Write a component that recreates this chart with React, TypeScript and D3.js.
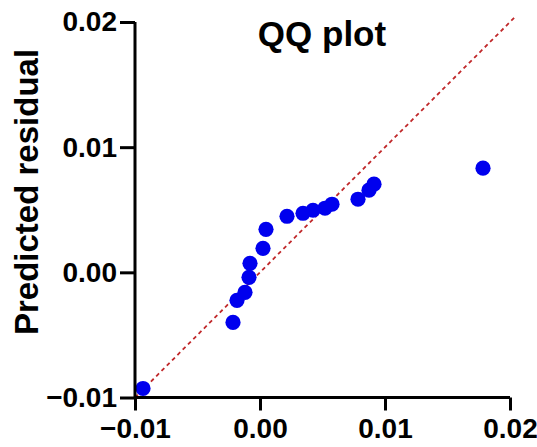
import React, { useEffect, useRef } from "react";
import * as d3 from "d3";

// theoretical quantiles (x) vs predicted residuals (y)
const theoretical = [-0.00936, -0.00216, -0.00184, -0.0012, -0.00088, -0.0008, 0.00024, 0.00048, 0.00216, 0.00344, 0.00424, 0.0052, 0.00576, 0.00784, 0.00872, 0.00912, 0.01784];
const residuals = [-0.00928, -0.004, -0.00224, -0.0016, -0.0004, 0.00072, 0.00192, 0.00344, 0.00448, 0.00472, 0.00496, 0.00512, 0.00544, 0.00584, 0.00656, 0.00704, 0.00832];
const xTicks = [-0.01, 0.0, 0.01, 0.02];
const yTicks = [-0.01, 0.0, 0.01, 0.02];
const refLine = [-0.01, 0.0205];

const W = 537;
const H = 447;
const FONT = "'Liberation Sans', Arial, sans-serif";

export default function App() {
  const svgRef = useRef<SVGSVGElement>(null);

  useEffect(() => {
    const svg = d3.select(svgRef.current);
    svg.selectAll("*").remove();

    const x = d3.scaleLinear().domain([-0.01, 0.02]).range([135, 510]);
    const y = d3.scaleLinear().domain([-0.01, 0.02]).range([397.5, 22]);

    // reference line y = x
    svg.append("line")
      .attr("x1", x(refLine[0])).attr("y1", y(refLine[0]))
      .attr("x2", x(refLine[1])).attr("y2", y(refLine[1]))
      .attr("stroke", "#c0282a")
      .attr("stroke-width", 1.8)
      .attr("stroke-dasharray", "4,3.5");

    svg.append("g")
      .selectAll("circle")
      .data(theoretical.map((t, i) => [t, residuals[i]]))
      .join("circle")
      .attr("cx", d => x(d[0]))
      .attr("cy", d => y(d[1]))
      .attr("r", 7.6)
      .attr("fill", "#0000ee");

    const xAxis = svg.append("g")
      .attr("transform", `translate(0,${y(-0.01)})`)
      .call(d3.axisBottom(x).tickValues(xTicks).tickSize(13).tickPadding(6).tickFormat(d3.format(".2f")));
    const yAxis = svg.append("g")
      .attr("transform", `translate(${x(-0.01)},0)`)
      .call(d3.axisLeft(y).tickValues(yTicks).tickSize(15).tickPadding(3).tickFormat(d3.format(".2f")));

    [xAxis, yAxis].forEach(g => {
      g.select(".domain").attr("stroke", "#000").attr("stroke-width", 3);
      g.selectAll(".tick line").attr("stroke", "#000").attr("stroke-width", 3);
      g.selectAll(".tick text")
        .attr("fill", "#000")
        .attr("font-family", FONT)
        .attr("font-weight", "bold")
        .attr("font-size", 28);
    });
    xAxis.select(".domain").attr("d", `M${x(-0.01)},0H${x(0.02)}`);
    yAxis.select(".domain").attr("d", `M0,${y(-0.01)}V${y(0.02)}`);
    xAxis.selectAll(".tick text").attr("dy", "0.76em");

    svg.append("text")
      .attr("x", 322).attr("y", 46)
      .attr("text-anchor", "middle")
      .attr("font-family", FONT)
      .attr("font-weight", "bold")
      .attr("font-size", 35)
      .text("QQ plot");

    svg.append("text")
      .attr("transform", `translate(38,192) rotate(-90)`)
      .attr("text-anchor", "middle")
      .attr("font-family", FONT)
      .attr("font-weight", "bold")
      .attr("font-size", 33)
      .text("Predicted residual");
  }, []);

  return (
    <svg ref={svgRef} width={W} height={H}
      style={{ position: "absolute", left: 0, top: 0, background: "#fff" }} />
  );
}
